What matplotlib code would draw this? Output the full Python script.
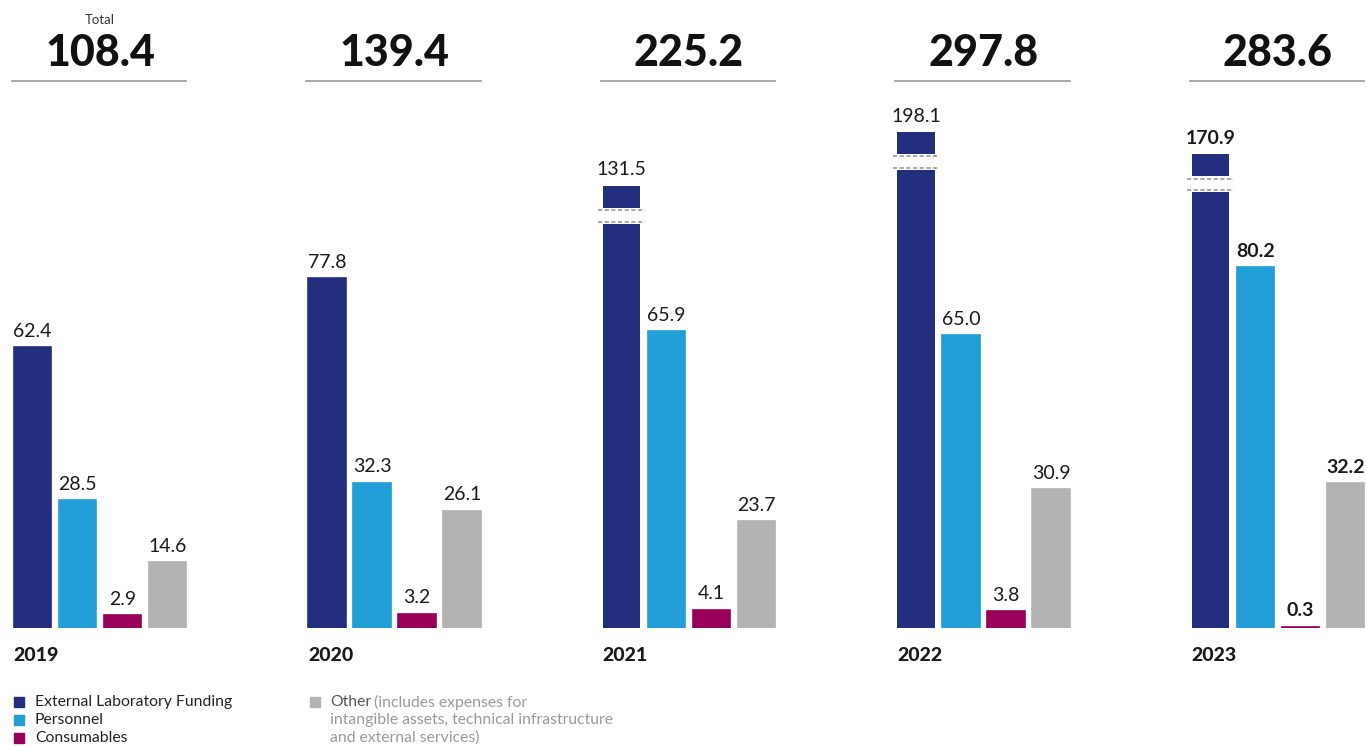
import matplotlib.pyplot as plt
from matplotlib.patches import Rectangle

# data
years = ["2019", "2020", "2021", "2022", "2023"]
totals = [108.4, 139.4, 225.2, 297.8, 283.6]
external_lab = [62.4, 77.8, 131.5, 198.1, 170.9]
personnel = [28.5, 32.3, 65.9, 65.0, 80.2]
consumables = [2.9, 3.2, 4.1, 3.8, 0.3]
other = [14.6, 26.1, 23.7, 30.9, 32.2]

series = [external_lab, personnel, consumables, other]
colors = ["#232f7e", "#229ed9", "#98005a", "#b3b3b3"]
legend_labels = ["External Laboratory Funding", "Personnel", "Consumables"]

# broken-axis compression for tall bars
BREAK_AT = 91.0
COMPRESS = 0.18
TOP_SEG = 5.0
GAP = 3.6

plt.rcParams['font.family'] = ['Lato', 'DejaVu Sans']

fig = plt.figure(figsize=(13.66, 7.46), dpi=100)
ax = fig.add_axes([0, 118 / 746, 1, 628 / 746])
ax.set_xlim(-32.5 / 45, (1366 - 32.5) / 45)
ax.set_ylim(0, 628 / 4.5)
ax.axis('off')

group_step = 294.5 / 45
width = 0.83
text_col = "#1a1a1a"

for i, year in enumerate(years):
    x0 = i * group_step
    bold = (year == "2023")
    for j, vals in enumerate(series):
        v = vals[i]
        x = x0 + j
        if v > BREAK_AT:
            shown = BREAK_AT + (v - BREAK_AT) * COMPRESS
            gap_top = shown - TOP_SEG
            gap_bot = gap_top - GAP
            ax.bar(x, gap_bot, width=width, color=colors[j])
            ax.bar(x, shown - gap_top, bottom=gap_top, width=width, color=colors[j])
            for yy in (gap_top - 0.5, gap_bot + 0.5):
                ax.plot([x - width / 2 - 0.1, x + width / 2 + 0.1], [yy, yy],
                        color="#999999", lw=1.2, ls=(0, (2.5, 1.5)))
        else:
            shown = v
            ax.bar(x, v, width=width, color=colors[j], edgecolor=colors[j], lw=1.2)
        ax.text(x, shown + 1.6, f"{v:.1f}", ha='center', va='bottom',
                fontsize=14, color=text_col,
                fontweight='bold' if bold else 'normal')

    # year label
    ax.text(x0 - width / 2, -4.2, year, ha='left', va='top',
            fontsize=14, fontweight='black', color=text_col)

    # total header
    cx = x0 + 1.5
    ax.text(cx, 124.9, f"{totals[i]:.1f}", ha='center', va='baseline',
            fontsize=31, fontweight='black', color="#111111")
    left = x0 - width / 2 - 0.05
    right = x0 + 3 + width / 2
    ax.plot([left, right], [121.6, 121.6], color="#999999", lw=1.2)

ax.text(1.5, 134.2, "Total", ha='center', va='baseline', fontsize=9.5, color="#333333")

# legend
def fx(px):
    return px / 1366

def fy(py):
    return 1 - py / 746

for k, lab in enumerate(legend_labels):
    ycen = 702 + k * 18
    fig.add_artist(Rectangle((fx(14), fy(ycen + 5)), 10 / 1366, 10 / 746,
                             transform=fig.transFigure, color=colors[k]))
    fig.text(fx(35), fy(ycen), lab, ha='left', va='center', fontsize=11.3, color="#222222")

fig.add_artist(Rectangle((fx(310), fy(707)), 10 / 1366, 10 / 746,
                         transform=fig.transFigure, color=colors[3]))
fig.text(fx(330), fy(702), "Other", ha='left', va='center', fontsize=11.3, color="#555555")
fig.text(fx(374), fy(702), "(includes expenses for", ha='left', va='center',
         fontsize=11.3, color="#9a9a9a")
fig.text(fx(330), fy(720), "intangible assets, technical infrastructure", ha='left',
         va='center', fontsize=11.3, color="#9a9a9a")
fig.text(fx(330), fy(738), "and external services)", ha='left', va='center',
         fontsize=11.3, color="#9a9a9a")

fig.savefig("out.png", dpi=100)
